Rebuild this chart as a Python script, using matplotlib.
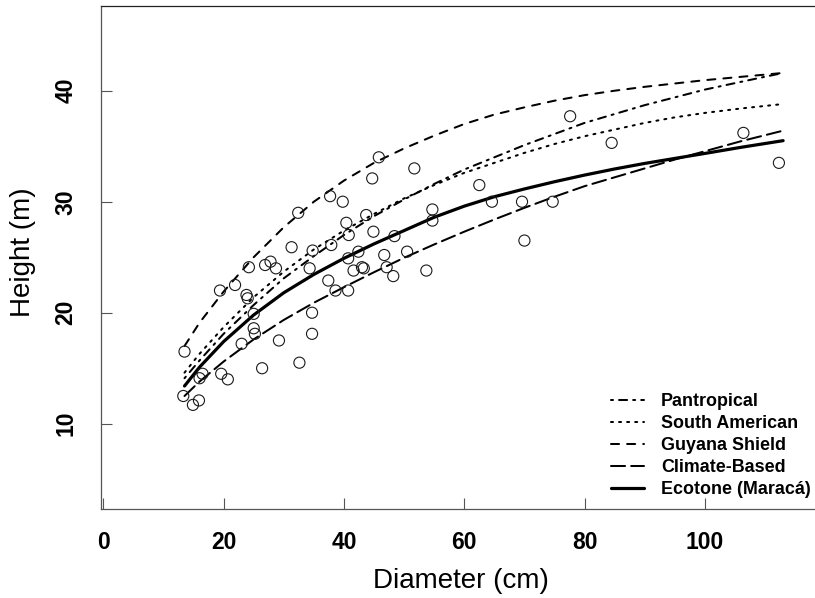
import matplotlib
matplotlib.use("Agg")
import matplotlib.pyplot as plt
import numpy as np

plt.rcParams['font.family'] = ['Liberation Sans', 'DejaVu Sans']

diam = [13.5, 13.3, 14.9, 15.9, 16.5, 16.0, 19.6, 20.7, 19.4, 21.9,
        23.8, 24.0, 23.0, 25.0, 25.0, 25.2, 24.2, 26.4, 26.9, 27.8,
        28.7, 29.2, 31.3, 32.4, 32.6, 34.3, 34.8, 34.7, 34.7, 37.4,
        37.7, 37.9, 38.6, 39.8, 40.4, 40.8, 40.7, 40.7, 41.6, 42.4,
        43.0, 43.3, 43.7, 44.7, 44.9, 45.8, 46.7, 47.1, 48.2, 48.4,
        50.5, 51.7, 53.7, 54.7, 54.7, 62.5, 64.6, 69.6, 70.0, 74.7,
        77.6, 84.5, 106.4, 112.3]
height = [16.5, 12.5, 11.7, 12.1, 14.5, 14.1, 14.5, 14.0, 22.0, 22.5,
          21.6, 21.3, 17.2, 19.9, 18.6, 18.1, 24.1, 15.0, 24.3, 24.6,
          24.0, 17.5, 25.9, 29.0, 15.5, 24.0, 25.6, 20.0, 18.1, 22.9,
          30.5, 26.1, 22.0, 30.0, 28.1, 27.0, 24.9, 22.0, 23.8, 25.5,
          24.1, 24.0, 28.8, 32.1, 27.3, 34.0, 25.2, 24.1, 23.3, 26.9,
          25.5, 33.0, 23.8, 29.3, 28.3, 31.5, 30.0, 30.0, 26.5, 30.0,
          37.7, 35.3, 36.2, 33.5]

# model curves, heights read at these diameters
curve_d = [13.5, 16, 20, 25, 30, 35, 40, 45, 50, 55, 60, 65, 70, 75,
           80, 85, 90, 95, 100, 106, 113]
pantropical = [14.1, 15.7, 18.1, 20.7, 23.1, 25.1, 27.0, 28.7, 30.2, 31.6, 32.9, 34.0, 35.1, 36.1,
               37.1, 37.9, 38.7, 39.4, 40.1, 40.8, 41.6]
south_american = [14.6, 16.3, 18.7, 21.4, 23.7, 25.7, 27.4, 28.9, 30.3, 31.5, 32.6, 33.5, 34.4, 35.2,
                  35.9, 36.5, 37.1, 37.6, 38.0, 38.4, 38.8]
guyana_shield = [17.0, 19.1, 21.9, 25.0, 27.7, 30.0, 31.9, 33.5, 34.8, 35.95, 37.0, 37.85, 38.5, 39.1,
                 39.6, 40.0, 40.35, 40.65, 40.95, 41.25, 41.6]
climate_based = [12.5, 13.8, 15.6, 17.6, 19.35, 20.9, 22.3, 23.65, 24.95, 26.15, 27.3, 28.4, 29.45, 30.45,
                 31.4, 32.2, 33.0, 33.8, 34.55, 35.45, 36.4]
ecotone = [13.4, 15.1, 17.4, 19.8, 21.8, 23.45, 24.9, 26.2, 27.4, 28.6, 29.6, 30.45, 31.15, 31.8,
           32.4, 32.95, 33.45, 33.9, 34.35, 34.9, 35.5]

x_ticks = [0, 20, 40, 60, 80, 100]
y_ticks = [10, 20, 30, 40]

fig = plt.figure(figsize=(8.15, 5.98), dpi=100)
ax = fig.add_axes([101 / 815, 89 / 598, 1 - 101 / 815, 503 / 598])

thin = 1.45
ax.plot(curve_d, pantropical, color='black', lw=thin, dashes=(1, 3, 4, 3),
        dash_capstyle='round', label='Pantropical')
ax.plot(curve_d, south_american, color='black', lw=thin, dashes=(1, 3),
        dash_capstyle='round', label='South American')
ax.plot(curve_d, guyana_shield, color='black', lw=thin, dashes=(4, 4),
        dash_capstyle='round', label='Guyana Shield')
ax.plot(curve_d, climate_based, color='black', lw=thin, dashes=(7, 3),
        dash_capstyle='round', label='Climate-Based')
ax.plot(curve_d, ecotone, color='black', lw=2.3, solid_capstyle='round',
        label='Ecotone (Maracá)')

ax.scatter(diam, height, s=64, facecolors='none', edgecolors='#1a1a1a', linewidths=0.8, zorder=3)

ax.set_xlim(-0.38, 118.3)
ax.set_ylim(2.32, 47.63)
ax.set_xticks(x_ticks)
ax.set_yticks(y_ticks)
ax.tick_params(direction='in', length=8, width=0.8, color='#555555', labelsize=16.5)
ax.tick_params(axis='x', pad=16)
ax.tick_params(axis='y', pad=17)
for lab in ax.get_xticklabels() + ax.get_yticklabels():
    lab.set_fontweight('bold')
for lab in ax.get_yticklabels():
    lab.set_rotation(90)
    lab.set_va('center')

for side in ['left', 'bottom']:
    ax.spines[side].set_color('#555555')
    ax.spines[side].set_linewidth(0.9)
ax.spines['top'].set_color('#222222')
ax.spines['top'].set_linewidth(0.9)
ax.spines['right'].set_visible(False)

fig.text(461 / 815, 1 - 581 / 598, 'Diameter (cm)', ha='center', va='center', fontsize=20)
fig.text(22.5 / 815, 1 - 252 / 598, 'Height (m)', ha='center', va='center', fontsize=20, rotation=90)

leg = ax.legend(loc='upper left', bbox_to_anchor=(611 / 815, 1 - 393 / 598),
                bbox_transform=fig.transFigure, frameon=False,
                prop={'weight': 'bold', 'size': 12.9}, handlelength=1.85,
                handletextpad=0.95, labelspacing=0.28, borderpad=0, borderaxespad=0)

fig.savefig('out.png', dpi=100)
